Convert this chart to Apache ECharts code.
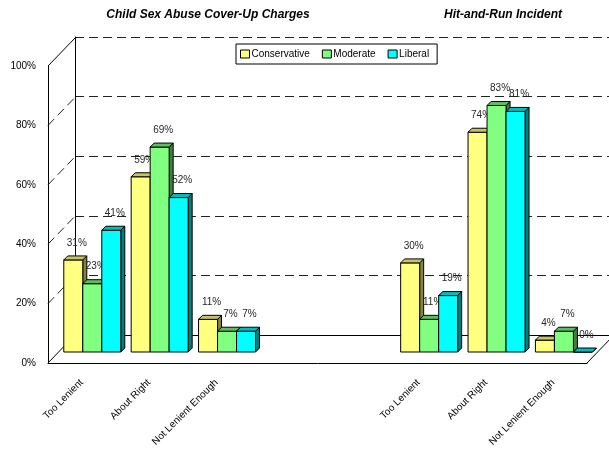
<!DOCTYPE html>
<html>
<head>
<meta charset="utf-8">
<script src="https://cdn.jsdelivr.net/npm/echarts@6/dist/echarts.min.js"></script>
<style>
  html, body { margin: 0; padding: 0; background: #fff; }
  #chart { width: 609px; height: 452px; }
</style>
</head>
<body>
<div id="chart"></div>
<script>
// Two panels share one category axis; the two empty slots separate them.
const categories = ['Too Lenient', 'About Right', 'Not Lenient Enough', '', '',
                    'Too Lenient', 'About Right', 'Not Lenient Enough'];
const seriesNames = ['Conservative', 'Moderate', 'Liberal'];
const conservative = [31, 59, 11, null, null, 30, 74, 4];
const moderate     = [23, 69, 7,  null, null, 11, 83, 7];
const liberal      = [41, 52, 7,  null, null, 19, 81, 0];
const yTicks = [0, 20, 40, 60, 80, 100];
const panelTitles = ['Child Sex Abuse Cover-Up Charges', 'Hit-and-Run Incident'];

// Face colours for each series: front, top, side.
const palette = [
  { front: '#FFFF80', top: '#C4C466', side: '#848442' },
  { front: '#80FF80', top: '#5EBE5E', side: '#3F7F3F' },
  { front: '#00FFFF', top: '#00BDBD', side: '#007F7F' }
];

const FONT = '"Liberation Sans", Arial, sans-serif';
// Oblique projection of the floor depth and of where the bar row sits in it.
const WALL = { dx: 27, dy: -28 };
const ROW = { dx: 10.6, dy: -11 };
const BAR_DEPTH = 4;
const BAR_SHARE = 0.282;   // width of one bar as a share of a category band

const valueLists = [conservative, moderate, liberal];

function barRenderer(seriesIdx) {
  return function (params, api) {
    const cat = api.value(0);
    const val = api.value(1);
    const base = api.coord([cat, 0]);
    const top = api.coord([cat, val]);
    const band = api.size([1, 0])[0];
    const w = band * BAR_SHARE;
    const d = BAR_DEPTH;
    const x0 = base[0] - 1.5 * w + seriesIdx * w + ROW.dx;
    const x1 = x0 + w;
    const yb = base[1] + ROW.dy;
    const yt = top[1] + ROW.dy;
    const c = palette[seriesIdx];
    const edge = { stroke: '#000', lineWidth: 1 };
    return {
      type: 'group',
      children: [
        {
          type: 'polygon',
          shape: { points: [[x1, yb], [x1, yt], [x1 + d, yt - d], [x1 + d, yb - d]] },
          style: Object.assign({ fill: c.side }, edge)
        },
        {
          type: 'rect',
          shape: { x: x0, y: yt, width: w, height: yb - yt },
          style: Object.assign({ fill: c.front }, edge)
        },
        {
          type: 'polygon',
          shape: { points: [[x0, yt], [x1, yt], [x1 + d, yt - d], [x0 + d, yt - d]] },
          style: Object.assign({ fill: c.top }, edge)
        },
        {
          type: 'text',
          style: {
            x: x0 + w / 2 + 3.5, y: yt - 17,
            text: val + '%',
            fill: '#262626',
            font: '10px ' + FONT,
            align: 'center', verticalAlign: 'middle'
          }
        }
      ]
    };
  };
}

// Side wall and floor edges, drawn from the value axis ticks.
function wallRenderer(params, api) {
  const v = api.value(0);
  const cs = params.coordSys;
  const y = api.coord([0, v])[1];
  const solid = (v === 0 || v === 100);
  const children = [{
    type: 'line',
    shape: { x1: cs.x, y1: y, x2: cs.x + WALL.dx, y2: y + WALL.dy },
    style: { stroke: solid ? '#000' : '#222', lineWidth: 1, lineDash: solid ? null : [9, 5] }
  }];
  if (v === 0) {
    const xr = cs.x + cs.width;
    children.push({
      type: 'line',
      shape: { x1: xr, y1: y, x2: xr + WALL.dx, y2: y + WALL.dy },
      style: { stroke: '#000', lineWidth: 1 }
    });
  }
  return { type: 'group', children: children };
}

const barSeries = seriesNames.map(function (name, i) {
  const data = [];
  valueLists[i].forEach(function (v, k) { if (v !== null) data.push([k, v]); });
  return {
    name: name,
    type: 'custom',
    xAxisIndex: 0,
    yAxisIndex: 0,
    itemStyle: { color: palette[i].front },
    renderItem: barRenderer(i),
    encode: { x: 0, y: 1 },
    data: data,
    z: 3
  };
});

const chart = echarts.init(document.getElementById('chart'), null, { renderer: 'canvas' });

chart.setOption({
  animation: false,
  backgroundColor: '#fff',
  title: [
    { text: panelTitles[0], left: 203, top: 4, textAlign: 'center',
      textStyle: { fontSize: 12, fontWeight: 'bold', fontStyle: 'italic', fontFamily: FONT, color: '#000' } },
    { text: panelTitles[1], left: 498, top: 4, textAlign: 'center',
      textStyle: { fontSize: 12, fontWeight: 'bold', fontStyle: 'italic', fontFamily: FONT, color: '#000' } }
  ],
  legend: {
    data: seriesNames,
    left: 236, top: 44,
    orient: 'horizontal',
    icon: 'rect',
    itemWidth: 9, itemHeight: 8, itemGap: 12,
    padding: [5, 8, 5, 4],
    backgroundColor: '#fff',
    borderColor: '#000', borderWidth: 1,
    itemStyle: { borderColor: '#000', borderWidth: 1 },
    textStyle: { fontSize: 10, fontFamily: FONT, color: '#000', padding: [0, 0, 0, -3] }
  },
  grid: [
    { left: 48, top: 66, width: 539, height: 297 },   // front plane
    { left: 75, top: 37, width: 539, height: 298 }    // back wall
  ],
  xAxis: [
    {
      type: 'category', gridIndex: 0, data: categories,
      axisLine: { show: true, lineStyle: { color: '#000', width: 1 } },
      axisTick: { show: false },
      axisLabel: { interval: 0, rotate: 45, fontSize: 10, fontFamily: FONT, color: '#000', margin: 18 },
      splitLine: { show: false }
    },
    {
      type: 'category', gridIndex: 1, data: categories,
      axisLine: { show: true, lineStyle: { color: '#000', width: 1 } },
      axisTick: { show: false }, axisLabel: { show: false }, splitLine: { show: false }
    }
  ],
  yAxis: [
    {
      type: 'value', gridIndex: 0, min: 0, max: 100, interval: 20,
      axisLine: { show: true, lineStyle: { color: '#000', width: 1 } },
      axisTick: { show: false },
      axisLabel: { formatter: '{value}%', fontSize: 10, fontFamily: FONT, color: '#000', margin: 12 },
      splitLine: { show: false }
    },
    {
      type: 'value', gridIndex: 1, min: 0, max: 100, interval: 20,
      axisLine: { show: true, lineStyle: { color: '#000', width: 1 } },
      axisTick: { show: false }, axisLabel: { show: false },
      splitLine: { show: true, lineStyle: { color: '#222', width: 1, type: [9, 5] } }
    }
  ],
  series: [
    {
      name: 'walls', type: 'custom', xAxisIndex: 0, yAxisIndex: 0,
      renderItem: wallRenderer, encode: { y: 0 },
      data: yTicks.map(function (v) { return [v]; }),
      silent: true, z: 1
    }
  ].concat(barSeries)
});
</script>
</body>
</html>
